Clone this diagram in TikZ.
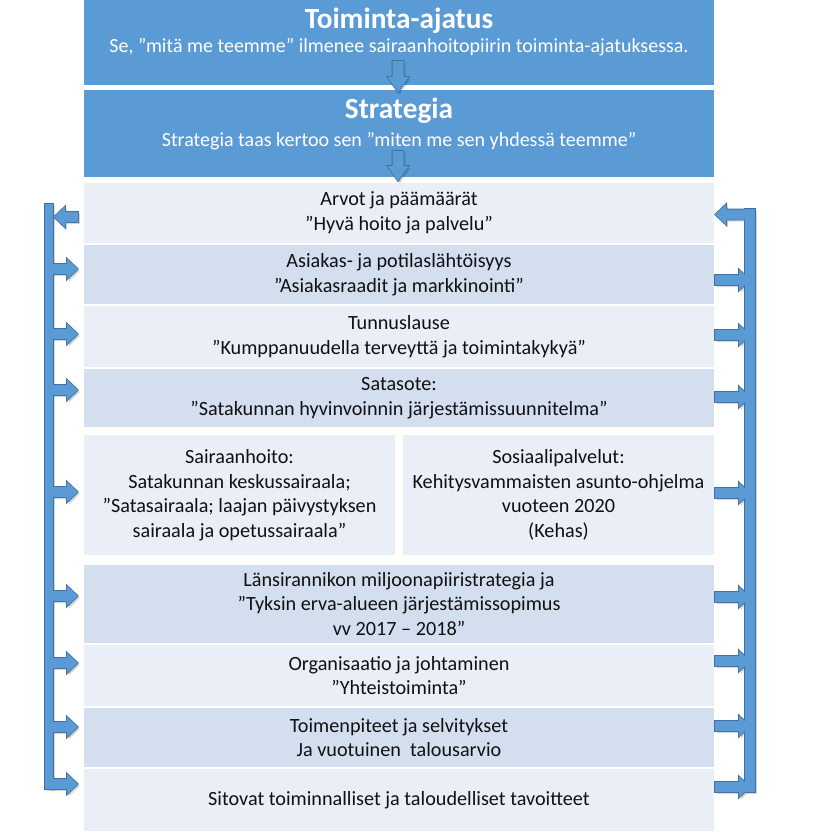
\documentclass[tikz,border=0pt]{standalone}
\usepackage{fontspec}
\setmainfont{Carlito}
\usetikzlibrary{calc}
\definecolor{hdr}{HTML}{5B9BD5}
\definecolor{rowA}{HTML}{E9EEF7}
\definecolor{rowB}{HTML}{D3DEEF}
\definecolor{arrline}{HTML}{41719C}
\definecolor{txt}{HTML}{111111}
\newcommand{\bodyfont}{\fontsize{20.2}{24.5}\selectfont}
\newcommand{\arrowset}[1]{%
  \path[#1] (45,204) rectangle (53,789);
  \path[#1] (745,209) rectangle (755,792);
  \path[#1,varr] (a1s) to (a1e);
  \path[#1,varr] (a2s) to (a2e);
  \path[#1,harr] (rb1) to ($(r1.east)+(1,0)$);
  \path[#1,harr] (lt1) to (lb1);
  \path[#1,harr] (lb2) to ($(r2.west)+(-6,0)$);
  \path[#1,harr] (lb3) to ($(r3.west)+(-6,0)$);
  \path[#1,harr] (lb4) to ($(r4.west)+(-6,0)$);
  \path[#1,harr] (lb5) to ($(r5a.west)+(-6,0)$);
  \path[#1,harr] (lb6) to ($(r6.west)+(-6,0)$);
  \path[#1,harr] (lb7) to ($(r7.west)+(-6,0)$);
  \path[#1,harr] (lb8) to ($(r8.west)+(-6,0)$);
  \path[#1,harr] (lb9) to ($(r9.west)+(-6,0)$);
  \path[#1,harr] (rt2) to (rb2);
  \path[#1,harr] (rt3) to (rb3);
  \path[#1,harr] (rt4) to (rb4);
  \path[#1,harr] (rt5) to (rb5);
  \path[#1,harr] (rt6) to (rb6);
  \path[#1,harr] (rt7) to (rb7);
  \path[#1,harr] (rt8) to (rb8);
  \path[#1,harr] (rt9) to (rb9);
}
\begin{document}
\begin{tikzpicture}[x=1pt,y=-1pt,
  rowbox/.style={inner sep=0pt,minimum width=630pt,align=center,font=\bodyfont,text=txt},
  halfbox/.style={rowbox,minimum width=311pt,minimum height=120pt,fill=rowA},
  hdrbox/.style={inner sep=0pt,minimum width=630pt,fill=hdr},
  htitle/.style={inner sep=0pt,anchor=base,text=white,font=\fontsize{29.3}{33}\selectfont\bfseries},
  hsub/.style={inner sep=0pt,anchor=base,text=white,font=\fontsize{20}{24}\selectfont},
  harr/.style={to path={let \p1=(\tikztostart), \p2=(\tikztotarget), \n1={ifthenelse(\x2>\x1,1,-1)} in
     (\x1,{\y1+5pt}) -- ({\x2-(\n1)*11pt},{\y1+5pt}) -- ({\x2-(\n1)*11pt},{\y1+10.5pt}) -- (\x2,\y1)
     -- ({\x2-(\n1)*11pt},{\y1-10.5pt}) -- ({\x2-(\n1)*11pt},{\y1-5pt}) -- (\x1,{\y1-5pt}) -- cycle}},
  varr/.style={to path={let \p1=(\tikztostart), \p2=(\tikztotarget), \n1={ifthenelse(\y2>\y1,1,-1)} in
     ({\x1+5.5pt},\y1) -- ({\x1+5.5pt},{\y2-(\n1)*15pt}) -- ({\x1+10.5pt},{\y2-(\n1)*15pt}) -- (\x1,\y2)
     -- ({\x1-10.5pt},{\y2-(\n1)*15pt}) -- ({\x1-5.5pt},{\y2-(\n1)*15pt}) -- ({\x1-5.5pt},\y1) -- cycle}},
  arrshadow/.style={fill=black,fill opacity=0.16,transform canvas={shift={(1.8pt,-2.2pt)}}},
  arrout/.style={draw=arrline,line width=1.6pt,line join=miter},
  arrfill/.style={fill=hdr}]
\useasboundingbox (0,0) rectangle (816,835);
\fill[white] (0,0) rectangle (816,835);
% header boxes
\node[hdrbox,minimum height=85pt] (t1) at (399,42.5) {};
\node[htitle] (t1a) at (399,28) {Toiminta-ajatus};
\node[hsub] (t1b) at (399,52) {Se, ”mitä me teemme” ilmenee sairaanhoitopiirin toiminta-ajatuksessa.};
\node[hdrbox,minimum height=87pt] (t2) at (399,133.5) {};
\node[htitle] (t2a) at (399,118) {Strategia};
\node[hsub] (t2b) at (399,146) {Strategia taas kertoo sen ”miten me sen yhdessä teemme”};
% rows
\node[rowbox,fill=rowA,minimum height=60pt] (r1) at (399,213) {Arvot ja päämäärät\\”Hyvä hoito ja palvelu”};
\node[rowbox,fill=rowB,minimum height=59pt] (r2) at (399,274.5) {Asiakas- ja potilaslähtöisyys\\”Asiakasraadit ja markkinointi”};
\node[rowbox,fill=rowA,minimum height=61pt] (r3) at (399,336.5) {Tunnuslause\\”Kumppanuudella terveyttä ja toimintakykyä”};
\node[rowbox,fill=rowB,minimum height=58pt] (r4) at (399,398) {Satasote:\\”Satakunnan hyvinvoinnin järjestämissuunnitelma”};
\node[halfbox] (r5a) at (239.5,495) {Sairaanhoito:\\Satakunnan keskussairaala;\\”Satasairaala; laajan päivystyksen\\sairaala ja opetussairaala”};
\node[halfbox] (r5b) at (558.5,495) {Sosiaalipalvelut:\\Kehitysvammaisten asunto-ohjelma\\vuoteen 2020\\(Kehas)};
\node[rowbox,fill=rowB,minimum height=78pt] (r6) at (399,604) {Länsirannikon miljoonapiiristrategia ja\\”Tyksin erva-alueen järjestämissopimus\\vv 2017 – 2018”};
\node[rowbox,fill=rowA,minimum height=61pt] (r7) at (399,675.5) {Organisaatio ja johtaminen\\”Yhteistoiminta”};
\node[rowbox,fill=rowB,minimum height=59pt] (r8) at (399,737.5) {Toimenpiteet ja selvitykset\\Ja vuotuinen\ \ talousarvio};
\node[rowbox,fill=rowA,minimum height=62pt] (r9) at (399,800) {Sitovat toiminnalliset ja taloudelliset tavoitteet};
% arrow end points
\coordinate (a1s) at (398,61);
\coordinate (a1e) at (398,92);
\coordinate (a2s) at (398,151);
\coordinate (a2e) at (398,181);
\coordinate (rb1) at (750,214.5);
\coordinate (lt1) at (78,217);
\coordinate (lb1) at (54,217);
\coordinate (lb2) at (49,269);
\coordinate (lb3) at (49,334);
\coordinate (lb4) at (49,390);
\coordinate (lb5) at (49,492);
\coordinate (lb6) at (49,596);
\coordinate (lb7) at (49,663);
\coordinate (lb8) at (49,727);
\coordinate (lb9) at (49,784);
\coordinate (rt2) at (715,280);
\coordinate (rt3) at (715,335);
\coordinate (rt4) at (715,397);
\coordinate (rt5) at (715,493);
\coordinate (rt6) at (715,597);
\coordinate (rt7) at (715,661);
\coordinate (rt8) at (715,726);
\coordinate (rt9) at (715,787);
\coordinate (rb2) at (750,280);
\coordinate (rb3) at (750,335);
\coordinate (rb4) at (750,397);
\coordinate (rb5) at (750,493);
\coordinate (rb6) at (750,597);
\coordinate (rb7) at (750,661);
\coordinate (rb8) at (750,726);
\coordinate (rb9) at (750,787);
% arrows: shadow, outline, fill
\arrowset{arrshadow}
\arrowset{arrout}
\arrowset{arrfill}
\end{tikzpicture}
\end{document}
